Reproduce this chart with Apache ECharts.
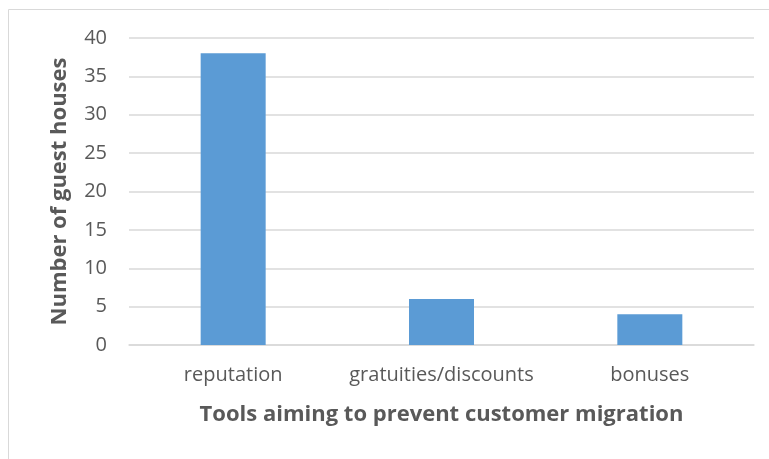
<!DOCTYPE html>
<html>
<head>
<meta charset="utf-8">
<script src="https://cdn.jsdelivr.net/npm/echarts@6/dist/echarts.min.js"></script>
<style>html,body{margin:0;padding:0;background:#fff;}</style>
</head>
<body>
<div id="main" style="width:769px;height:459px;"></div>
<script type="text/javascript">
	// data
	var categories = ['reputation', 'gratuities/discounts', 'bonuses'];
	var guestHouses = [38, 6, 4];
	var yTicks = [0, 5, 10, 15, 20, 25, 30, 35, 40];

	var myChart = echarts.init(document.getElementById('main'));
	var textFont = '"Open Sans", "Liberation Sans", sans-serif';
	var option = {
		animation: false,
		graphic: [{
			type: 'rect',
			shape: { x: 8.5, y: 9.5, width: 800, height: 500 },
			style: { fill: 'none', stroke: '#d9d9d9', lineWidth: 1 },
			silent: true
		}],
		grid: {
			left: 129,
			right: 15,
			top: 38,
			bottom: 114
		},
		xAxis: {
			type: 'category',
			data: categories,
			name: 'Tools aiming to prevent customer migration',
			nameLocation: 'middle',
			nameGap: 59,
			nameTextStyle: { fontFamily: textFont, fontSize: 22, fontWeight: 'bold', color: '#595959' },
			axisLine: { lineStyle: { color: '#d9d9d9', width: 1.5 } },
			axisTick: { show: false },
			axisLabel: { interval: 0, fontFamily: textFont, fontSize: 20, color: '#595959', margin: 20 }
		},
		yAxis: {
			type: 'value',
			min: yTicks[0],
			max: yTicks[yTicks.length - 1],
			interval: 5,
			name: 'Number of guest houses',
			nameLocation: 'middle',
			nameGap: 58,
			nameTextStyle: { fontFamily: textFont, fontSize: 22, fontWeight: 'bold', color: '#595959' },
			axisLine: { show: false },
			axisTick: { show: false },
			axisLabel: { fontFamily: textFont, fontSize: 20, color: '#595959', margin: 22 },
			splitLine: { lineStyle: { color: '#d9d9d9', width: 1.5 } }
		},
		series: [{
			name: 'guest houses',
			type: 'bar',
			data: guestHouses,
			barWidth: 65,
			itemStyle: { color: '#5b9bd5' }
		}]
	};
	myChart.setOption(option);
</script>
</body>
</html>
